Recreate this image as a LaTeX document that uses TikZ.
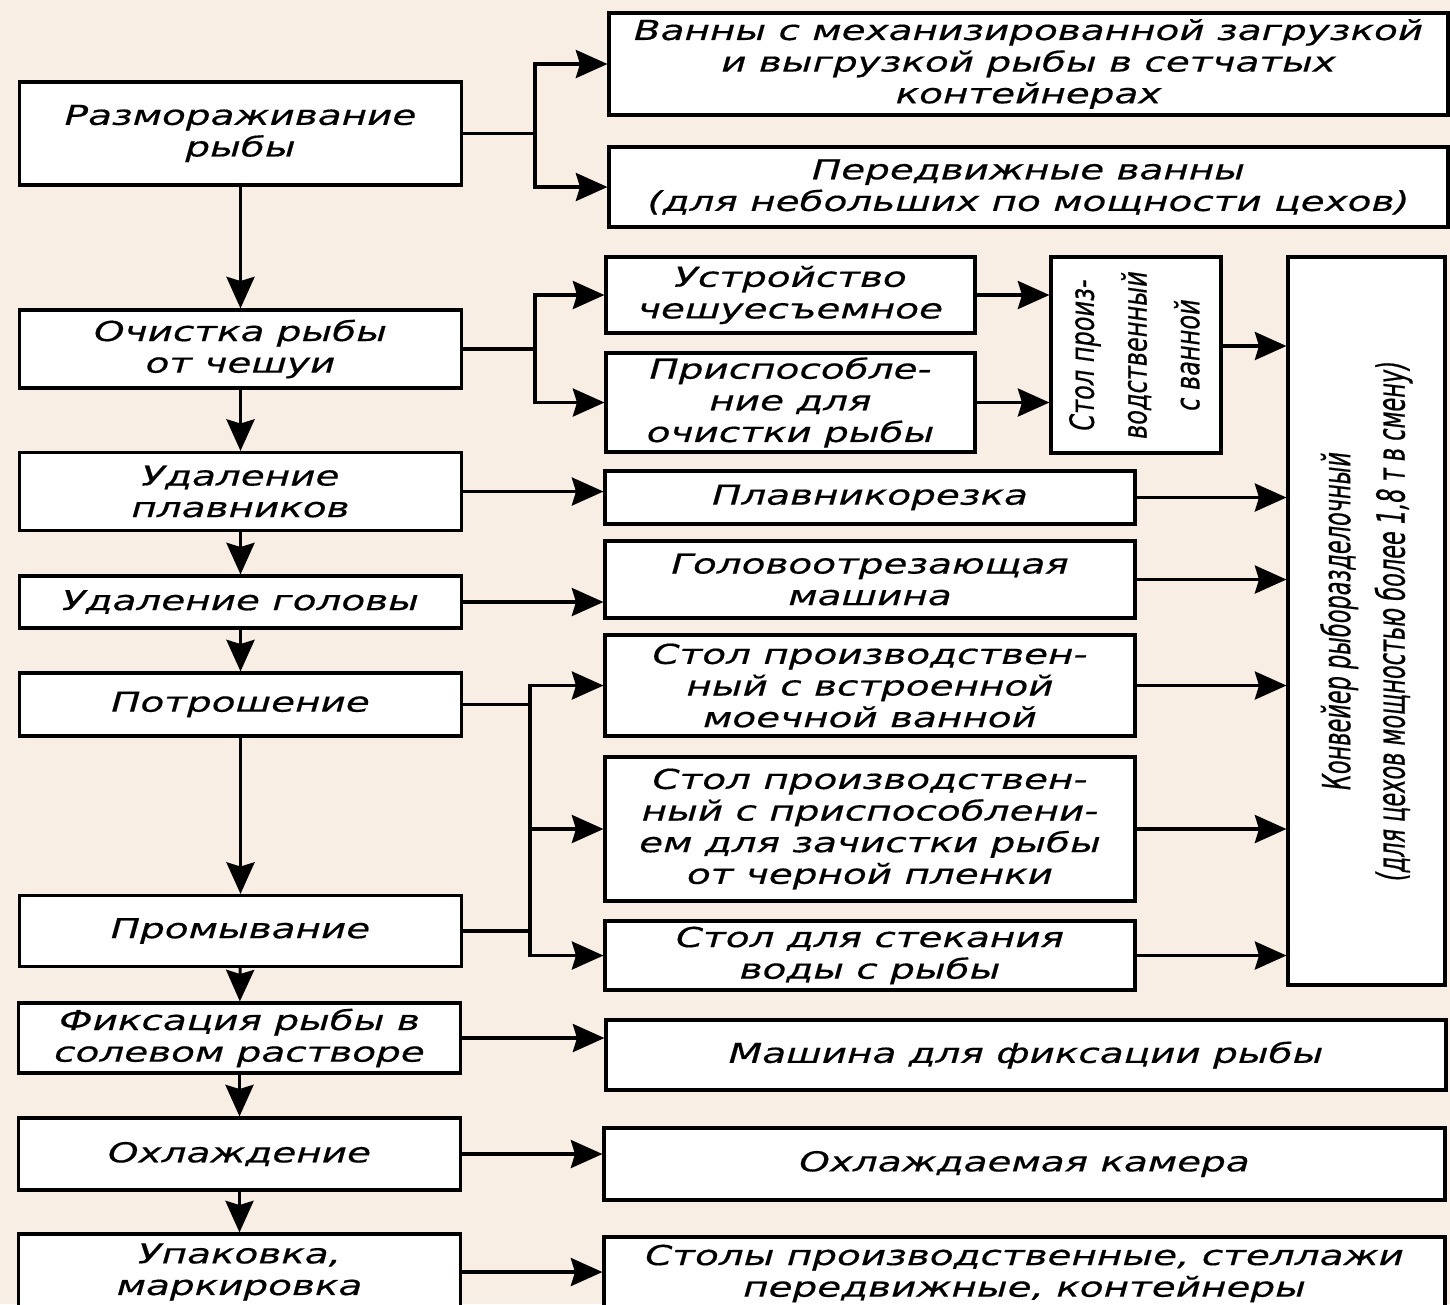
\documentclass[tikz,border=0pt]{standalone}
\usepackage{fontspec}
\newfontfamily\shemafont[FakeStretch=1.42,FakeBold=0.5]{DejaVu Sans}
\newfontfamily\uzkifont[FakeStretch=0.72,FakeBold=0.5]{DejaVu Sans}
\newfontfamily\konvfont[FakeStretch=0.58,FakeBold=0.5]{DejaVu Sans}
\usetikzlibrary{arrows.meta}
\definecolor{fon}{RGB}{248,238,228}

\begin{document}
\begin{tikzpicture}[
    >={Stealth[length=9pt,width=8pt,inset=1.2pt]},
    line width=0.9pt,
    etap/.style={draw, fill=white, minimum width=4.42cm, inner sep=0pt, align=center,
      font=\shemafont\itshape\fontsize{7.8}{9}\selectfont},
    oborud/.style={draw, fill=white, inner sep=0pt, align=center,
      font=\shemafont\itshape\fontsize{7.8}{9}\selectfont},
    vert/.style={draw, fill=white, inner sep=0pt,
      font=\uzkifont\itshape\fontsize{9.5}{15}\selectfont}
  ]
  % Фон рисунка
  \useasboundingbox (0,0) rectangle (14.5,-13.04);
  \fill[fon] (0,0) rectangle (14.5,-13.04);

  % Этапы обработки рыбы (левая колонка)
  \node[etap, minimum height=1.03cm] (razm) at (2.405,-1.335) {Размораживание\\рыбы};
  \node[etap, minimum height=0.78cm] (ochist) at (2.405,-3.49) {Очистка рыбы\\от чешуи};
  \node[etap, minimum height=0.78cm] (udpl) at (2.405,-4.915) {Удаление\\плавников};
  \node[etap, minimum height=0.52cm] (udgol) at (2.405,-6.02) {Удаление головы};
  \node[etap, minimum height=0.63cm] (potr) at (2.405,-7.045) {Потрошение};
  \node[etap, minimum height=0.71cm] (prom) at (2.405,-9.31) {Промывание};
  \node[etap, minimum height=0.70cm] (fiks) at (2.395,-10.38) {Фиксация рыбы в\\солевом растворе};
  \node[etap, minimum height=0.72cm] (ohl) at (2.395,-11.54) {Охлаждение};
  \node[etap, minimum height=0.76cm] (upak) at (2.395,-12.72) {Упаковка,\\маркировка};

  % Оборудование (правая часть)
  \node[oborud, minimum width=8.39cm, minimum height=1.02cm] (vannaA) at (10.285,-0.64)
    {Ванны с механизированной загрузкой\\и выгрузкой рыбы в сетчатых\\контейнерах};
  \node[oborud, minimum width=8.39cm, minimum height=0.80cm] (vannaB) at (10.285,-1.87)
    {Передвижные ванны\\(для небольших по мощности цехов)};
  \node[oborud, minimum width=3.69cm, minimum height=0.76cm] (ustr) at (7.905,-2.95) {Устройство\\чешуесъемное};
  \node[oborud, minimum width=3.69cm, minimum height=0.99cm] (prisp) at (7.905,-4.025) {Приспособле-\\ние для\\очистки рыбы};
  \node[vert, minimum width=1.70cm, minimum height=1.96cm] (stolv) at (11.36,-3.55)
    {\rotatebox{90}{\begin{tabular}{@{}c@{}}Стол произ-\\водственный\\с ванной\end{tabular}}};
  \node[vert, minimum width=1.57cm, minimum height=7.28cm,
    font=\konvfont\itshape\fontsize{11}{15.5}\selectfont] (konv) at (13.665,-6.21)
    {\rotatebox{90}{\begin{tabular}{@{}c@{}}Конвейер рыборазделочный\\(для цехов мощностью более 1,8 т в смену)\end{tabular}}};
  \node[oborud, minimum width=5.30cm, minimum height=0.53cm] (plav) at (8.70,-4.975) {Плавникорезка};
  \node[oborud, minimum width=5.30cm, minimum height=0.77cm] (golov) at (8.70,-5.795) {Головоотрезающая\\машина};
  \node[oborud, minimum width=5.30cm, minimum height=1.01cm] (stol1) at (8.70,-6.855)
    {Стол производствен-\\ный с встроенной\\моечной ванной};
  \node[oborud, minimum width=5.30cm, minimum height=1.44cm] (stol2) at (8.70,-8.29)
    {Стол производствен-\\ный с приспособлени-\\ем для зачистки рыбы\\от черной пленки};
  \node[oborud, minimum width=5.30cm, minimum height=0.69cm] (stol3) at (8.70,-9.555) {Стол для стекания\\воды с рыбы};
  \node[oborud, minimum width=8.40cm, minimum height=0.70cm] (mash) at (10.26,-10.55) {Машина для фиксации рыбы};
  \node[oborud, minimum width=8.41cm, minimum height=0.72cm] (kam) at (10.245,-11.64) {Охлаждаемая камера};
  \node[oborud, minimum width=8.41cm, minimum height=0.73cm] (stoly) at (10.245,-12.735)
    {Столы производственные, стеллажи\\передвижные, контейнеры};

  % Точки разветвления
  \coordinate (r1) at (5.35,-1.335);
  \coordinate (r2) at (5.35,-3.49);
  \coordinate (r3) at (5.30,-7.045);
  \coordinate (r4) at (5.30,-9.31);

  % Стрелки между этапами
  \draw[->] (razm) -- (ochist);
  \draw[->] (ochist) -- (udpl);
  \draw[->] (udpl) -- (udgol);
  \draw[->] (udgol) -- (potr);
  \draw[->] (potr) -- (prom);
  \draw[->] (prom) -- (fiks);
  \draw[->] (fiks) -- (ohl);
  \draw[->] (ohl) -- (upak);

  % Ветви к оборудованию
  \draw (razm) -- (r1);
  \draw[->] (r1) |- (vannaA);
  \draw[->] (r1) |- (vannaB);
  \draw (ochist) -- (r2);
  \draw[->] (r2) |- (ustr);
  \draw[->] (r2) |- (prisp);
  \draw[->] (ustr.east) -- (ustr.east -| stolv.west);
  \draw[->] (prisp.east) -- (prisp.east -| stolv.west);
  \draw[->] (udpl) -- (udpl -| plav.west);
  \draw[->] (udgol) -- (udgol -| golov.west);
  \draw (potr) -- (r3);
  \draw (prom) -- (r4);
  \draw (r3) -- (r4);
  \draw[->] (r3) |- (stol1);
  \draw[->] (r3) |- (stol2);
  \draw[->] (r4) |- (stol3);

  % Стрелки к конвейеру
  \draw[->] ([yshift=0.09cm]stolv.east) -- ([yshift=0.09cm]stolv.east -| konv.west);
  \draw[->] (plav) -- (plav -| konv.west);
  \draw[->] (golov) -- (golov -| konv.west);
  \draw[->] (stol1) -- (stol1 -| konv.west);
  \draw[->] (stol2) -- (stol2 -| konv.west);
  \draw[->] (stol3) -- (stol3 -| konv.west);

  % Последние этапы
  \draw[->] (fiks) -- (fiks -| mash.west);
  \draw[->] (ohl) -- (ohl -| kam.west);
  \draw[->] (upak) -- (upak -| stoly.west);
\end{tikzpicture}
\end{document}
